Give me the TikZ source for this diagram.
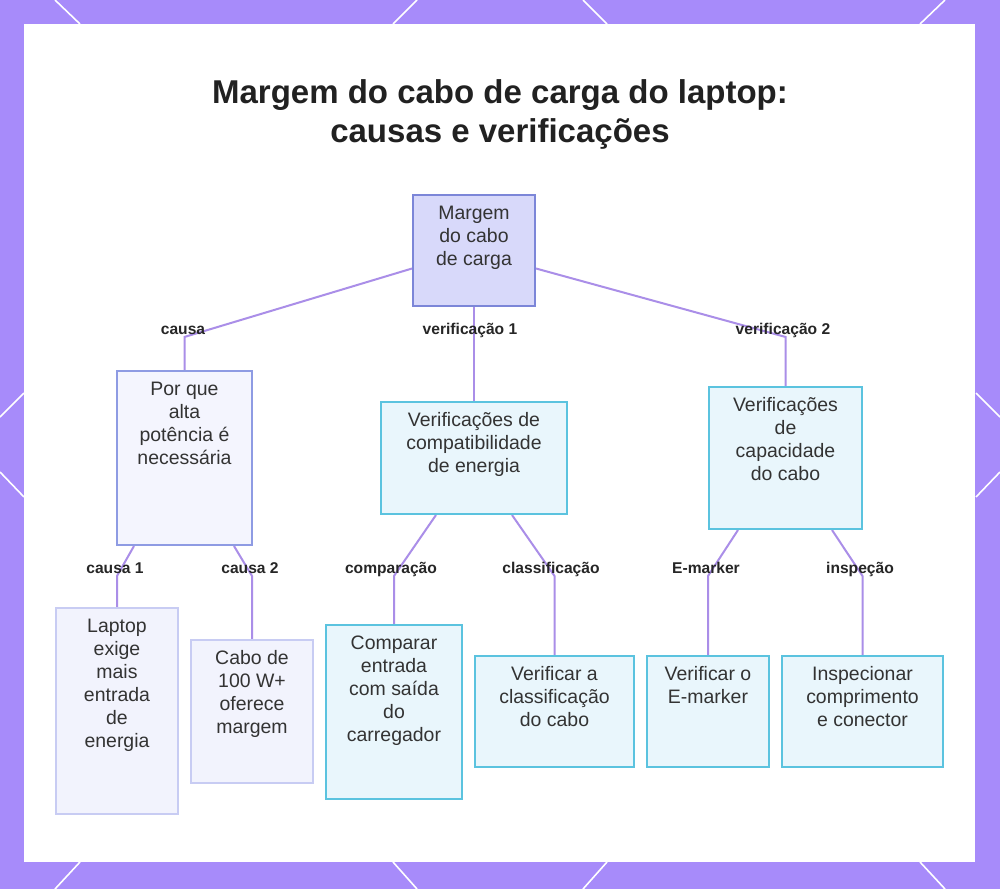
\documentclass[tikz,border=0pt]{standalone}
\usepackage{fontspec}
\setmainfont{Liberation Sans}
\usepackage{tikz}
\usetikzlibrary{calc,positioning}
\definecolor{framepurple}{RGB}{167,139,250}
\definecolor{edgepurple}{RGB}{170,142,232}
\definecolor{rootfill}{RGB}{216,217,250}
\definecolor{rootdraw}{RGB}{124,134,216}
\definecolor{lavfill}{RGB}{244,245,254}
\definecolor{lavdraw}{RGB}{142,155,227}
\definecolor{leaffill}{RGB}{242,243,253}
\definecolor{leafdraw}{RGB}{200,204,243}
\definecolor{cyanfill}{RGB}{233,246,252}
\definecolor{cyandraw}{RGB}{91,195,223}
\definecolor{textgray}{RGB}{51,51,51}
\newdimen\px \px=0.75pt
\newcommand{\boxtext}[3]{\parbox[c][#2\px][t]{#1\px}{\centering\rule{0pt}{18.5pt}#3}}
\pgfdeclarelayer{frame}
\pgfdeclarelayer{edges}
\pgfsetlayers{frame,edges,main}

\begin{document}
\begin{tikzpicture}[
  x=1\px, y=-1\px,
  box/.style={draw, line width=1.5pt, inner sep=0pt, text=textgray, font=\fontsize{14.6}{17.25}\selectfont},
  rootbox/.style={box, fill=rootfill, draw=rootdraw},
  causebox/.style={box, fill=lavfill, draw=lavdraw},
  leafbox/.style={box, fill=leaffill, draw=leafdraw},
  checkbox/.style={box, fill=cyanfill, draw=cyandraw},
  lbl/.style={font=\fontsize{11.7}{14}\selectfont\bfseries, text=black!85, inner sep=0pt, text height=1.6ex, text depth=.3ex},
  edge/.style={draw=edgepurple, line width=1.5pt},
  deco/.style={draw=white, line width=1.2pt},
]
  \useasboundingbox (0,0) rectangle (1000,889);

  % frame
  \begin{pgfonlayer}{frame}
    \fill[framepurple] (0,0) rectangle (1000,889);
    \fill[white] (24,24) rectangle (975,862);
    \draw[deco] (55,0) -- (80,24);
    \draw[deco] (417,0) -- (393,24);
    \draw[deco] (583,0) -- (607,24);
    \draw[deco] (945,0) -- (920,24);
    \draw[deco] (80,862) -- (55,889);
    \draw[deco] (393,862) -- (417,889);
    \draw[deco] (607,862) -- (583,889);
    \draw[deco] (920,862) -- (945,889);
    \draw[deco] (24,393) -- (0,417);
    \draw[deco] (0,472) -- (24,497);
    \draw[deco] (976,393) -- (1000,417);
    \draw[deco] (1000,472) -- (976,497);
  \end{pgfonlayer}

  % title
  \node[font=\fontsize{24.75}{29.25}\selectfont\bfseries, text=black!87, align=center] (title) at (500,114.5)
    {Margem do cabo de carga do laptop:\\causas e verificações};

  % root
  \node[rootbox] (root) at (474,250.5) {\boxtext{122}{111}{Margem\\do cabo\\de carga}};

  % level 1
  \node[causebox] (why) at (184.5,458) {\boxtext{135}{174}{Por que\\alta\\potência é\\necessária}};
  \node[checkbox] (power) at (474,458) {\boxtext{186}{112}{Verificações de\\compatibilidade\\de energia}};
  \node[checkbox] (capacity) at (785.5,458) {\boxtext{153}{142}{Verificações\\de\\capacidade\\do cabo}};

  % level 2
  \node[leafbox] (input) at (117,711) {\boxtext{122}{206}{Laptop\\exige\\mais\\entrada\\de\\energia}};
  \node[leafbox] (headroom) at (252,711.5) {\boxtext{122}{143}{Cabo de\\100 W+\\oferece\\margem}};
  \node[checkbox] (compare) at (394,712) {\boxtext{136}{174}{Comparar\\entrada\\com saída\\do\\carregador}};
  \node[checkbox] (rating) at (554.5,711.5) {\boxtext{159}{111}{Verificar a\\classificação\\do cabo}};
  \node[checkbox] (emarker) at (708,711.5) {\boxtext{122}{111}{Verificar o\\E-marker}};
  \node[checkbox] (inspect) at (862.5,711.5) {\boxtext{161}{111}{Inspecionar\\comprimento\\e conector}};

  % edge labels
  \node[lbl] (lcause) at (183,330) {causa};
  \node[lbl] (lpower) at (470,330) {verificação 1};
  \node[lbl] (lcapacity) at (783,330) {verificação 2};
  \node[lbl] (linput) at (115,569) {causa 1};
  \node[lbl] (lheadroom) at (250,569) {causa 2};
  \node[lbl] (lcompare) at (391,569) {comparação};
  \node[lbl] (lrating) at (551,569) {classificação};
  \node[lbl] (lemarker) at (706,569) {E-marker};
  \node[lbl] (linspect) at (860,569) {inspeção};

  % edges
  \begin{pgfonlayer}{edges}
    \draw[edge] ($(root.west)+(0,18)$) -- (why.north |- lcause.south) -- (why.north);
    \draw[edge] (root.south) -- (power.north);
    \draw[edge] ($(root.east)+(0,18)$) -- (capacity.north |- lcapacity.south) -- (capacity.north);
    \draw[edge] ($(why.south)+(-50.5,0)$) -- (input.north |- linput.south) -- (input.north);
    \draw[edge] ($(why.south)+(49.5,0)$) -- (headroom.north |- lheadroom.south) -- (headroom.north);
    \draw[edge] ($(power.south)+(-38,0)$) -- (compare.north |- lcompare.south) -- (compare.north);
    \draw[edge] ($(power.south)+(38,0)$) -- (rating.north |- lrating.south) -- (rating.north);
    \draw[edge] ($(capacity.south)+(-47.5,0)$) -- (emarker.north |- lemarker.south) -- (emarker.north);
    \draw[edge] ($(capacity.south)+(46.5,0)$) -- (inspect.north |- linspect.south) -- (inspect.north);
  \end{pgfonlayer}
\end{tikzpicture}
\end{document}
